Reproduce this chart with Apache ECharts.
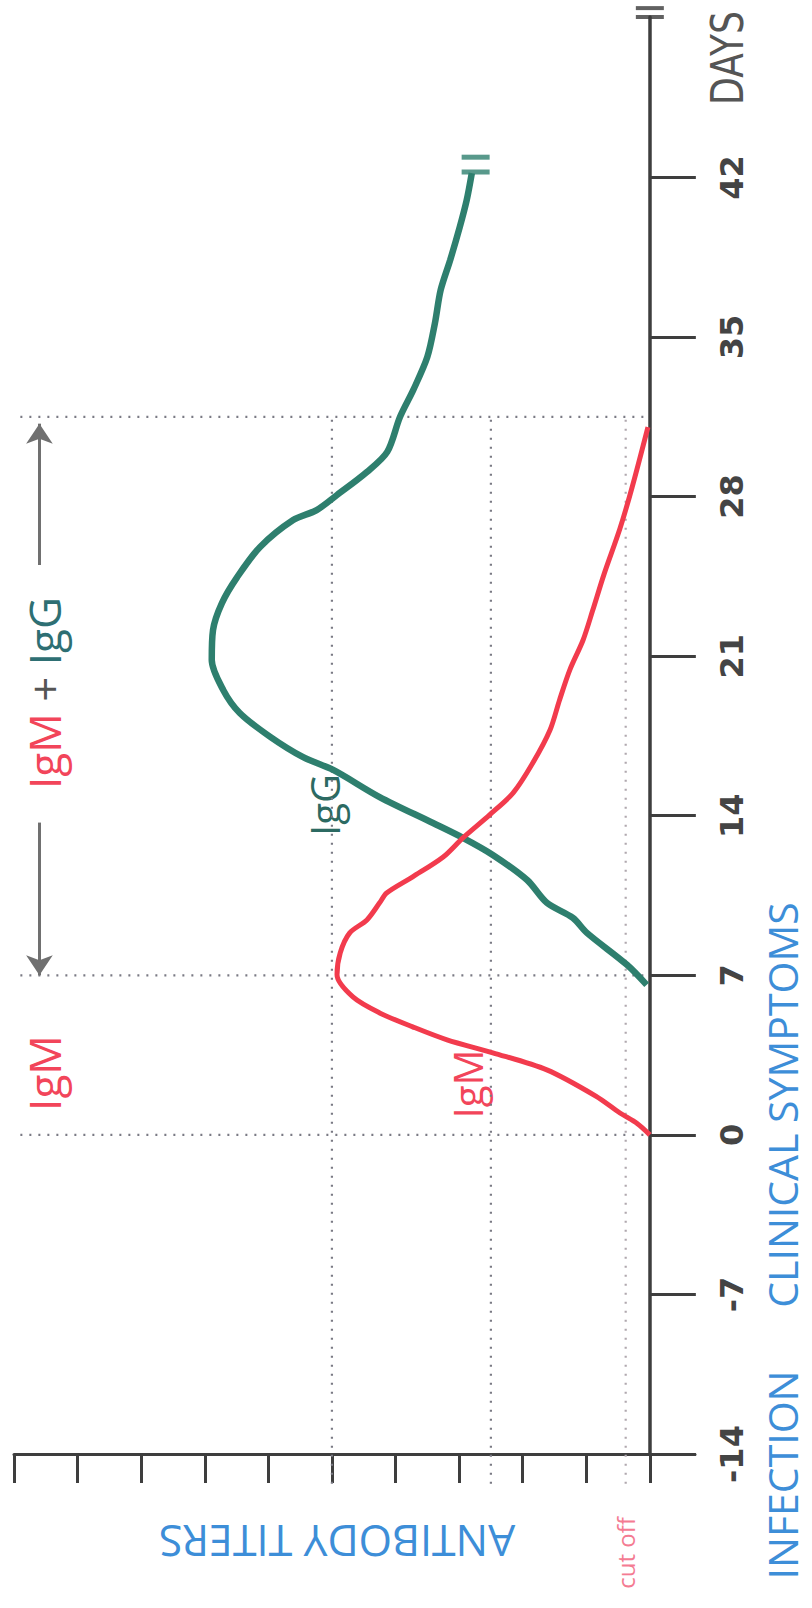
<!DOCTYPE html>
<html>
<head>
<meta charset="utf-8">
<script src="https://cdn.jsdelivr.net/npm/echarts@6/dist/echarts.min.js"></script>
<style>
html,body{margin:0;padding:0;background:#fff;}
#chart{width:812px;height:1608px;}
</style>
</head>
<body>
<div id="chart"></div>
<script>
// ---- data (days since infection vs. antibody titer, arbitrary units 0-10) ----
const igmDays   = [0, 0.5, 0.96, 1.7, 2.85, 3.6, 4.17, 4.74, 5.35, 6.05, 7.02, 7.98, 8.86, 9.43, 10.18, 10.61, 11.32, 12.19, 13.03, 14.04, 15.0, 16.32, 17.76, 19.08, 20.39, 21.71, 23.0, 24.6, 26.6, 28.4, 31.05];
const igmTiters = [0, 0.2, 0.47, 0.85, 1.62, 2.47, 3.19, 3.73, 4.25, 4.67, 4.92, 4.87, 4.72, 4.45, 4.25, 4.14, 3.73, 3.25, 2.94, 2.52, 2.15, 1.84, 1.57, 1.42, 1.26, 1.05, 0.9, 0.72, 0.47, 0.28, 0.03];
const iggDays   = [6.58, 7.46, 8.86, 9.52, 10.18, 11.18, 12.28, 13.03, 13.68, 14.82, 16.01, 16.58, 17.46, 18.51, 19.52, 20.83, 22.15, 23.33, 24.47, 25.79, 26.97, 27.41, 28.07, 29.08, 29.96, 31.49, 32.68, 34.12, 35.61, 37.06, 38.38, 39.82, 41.01, 42.19];
const iggTiters = [0.05, 0.36, 0.99, 1.21, 1.62, 1.93, 2.47, 2.94, 3.41, 4.25, 4.98, 5.46, 5.97, 6.45, 6.71, 6.89, 6.87, 6.73, 6.49, 6.13, 5.61, 5.24, 4.92, 4.45, 4.13, 3.93, 3.72, 3.50, 3.38, 3.29, 3.14, 2.99, 2.88, 2.80];
const dayTicks   = [-14, -7, 0, 7, 14, 21, 28, 35, 42];
const titerTicks = [0, 1, 2, 3, 4, 5, 6, 7, 8, 9, 10];
const guideDays   = [0, 7, 31.5];      // infection, symptom onset, end of IgM phase
const guideTiters = [5, 2.5, 0.38];    // reference titers, last = cut off
const axisBreakDays  = [49.04, 49.43];
const iggBreakDays   = [42.24, 42.89];
const iggBreakTiter  = 2.74;
const arrowSpans = [[13.7, 7.0], [25.0, 31.2]];
const arrowTiter = 9.6;

const dayMin = -14, dayMax = 49.04, titerMin = -0.71, titerMax = 10;
const guideTiterMax = 9.9, guideDayMin = -15.3;

const pairs = (xs, ys) => xs.map((d, i) => [ys[i], d]);

const dotted = [2, 7];
const series = [];
guideDays.forEach(d => series.push({
  type: 'line', silent: true, clip: false, symbol: 'none', z: 1,
  data: [[guideTiterMax, d], [0, d]],
  lineStyle: { color: '#7a7a84', width: 2.2, type: dotted }
}));
guideTiters.forEach((v, i) => series.push({
  type: 'line', silent: true, clip: false, symbol: 'none', z: 1,
  data: [[v, guideDayMin], [v, guideDays[2]]],
  lineStyle: { color: i === 2 ? '#b0a8ae' : '#7a7a84', width: 2.2, type: dotted }
}));
series.push({
  name: 'IgM', type: 'line', smooth: 0.3, symbol: 'none', z: 5, clip: false,
  data: pairs(igmDays, igmTiters),
  lineStyle: { color: '#f23b4d', width: 5 }
});
series.push({
  name: 'IgG', type: 'line', smooth: 0.3, symbol: 'none', z: 4, clip: false,
  data: pairs(iggDays, iggTiters),
  lineStyle: { color: '#2e7f6e', width: 6.5 }
});
series.push({
  type: 'scatter', silent: true, clip: false, z: 6,
  symbol: 'rect', symbolSize: [28, 4],
  data: axisBreakDays.map(d => [0, d]),
  itemStyle: { color: '#3a3a3a' }
});
series.push({
  type: 'scatter', silent: true, clip: false, z: 6,
  symbol: 'rect', symbolSize: [28, 5],
  data: iggBreakDays.map(d => [iggBreakTiter, d]),
  itemStyle: { color: '#2e7f6e' }
});
series.push({
  type: 'lines', coordinateSystem: 'cartesian2d', silent: true, z: 3,
  symbol: ['none', 'arrow'], symbolSize: 20,
  data: arrowSpans.map(s => ({ coords: [[arrowTiter, s[0]], [arrowTiter, s[1]]] })),
  lineStyle: { color: '#707070', width: 3, opacity: 1 }
});

const chart = echarts.init(document.getElementById('chart'), null, { renderer: 'svg' });
chart.setOption({
  animation: false,
  backgroundColor: '#ffffff',
  grid: { left: 14, right: 117, top: 17, bottom: 154, containLabel: false, outerBoundsMode: 'none' },
  xAxis: {
    type: 'value', inverse: true, min: titerMin, max: titerMax, position: 'bottom',
    axisLine: { onZero: false, lineStyle: { color: '#3e3e3e', width: 3 } },
    axisTick: { show: true, customValues: titerTicks, length: 29, inside: false, lineStyle: { color: '#3e3e3e', width: 3 } },
    axisLabel: { show: false },
    splitLine: { show: false }
  },
  yAxis: {
    type: 'value', min: dayMin, max: dayMax, position: 'right',
    axisLine: { onZero: true, lineStyle: { color: '#3e3e3e', width: 3.5 } },
    axisTick: { show: true, customValues: dayTicks, length: 46, inside: false, lineStyle: { color: '#3e3e3e', width: 3 } },
    axisLabel: {
      customValues: dayTicks, rotate: 90, margin: 21,
      color: '#444', fontSize: 32, fontWeight: 'bold', fontFamily: 'DejaVu Sans'
    },
    splitLine: { show: false }
  },
  graphic: [
    { type: 'text', x: 728, y: 58, rotation: Math.PI / 2, scaleX: 0.82,
      style: { text: 'DAYS', fontSize: 44, fontFamily: 'DejaVu Sans', fill: '#555', align: 'center', verticalAlign: 'middle' } },
    { type: 'text', x: 782, y: 1475, rotation: Math.PI / 2,
      style: { text: 'INFECTION', fontSize: 41, fontFamily: 'Open Sans', fill: '#3d8ed8', align: 'center', verticalAlign: 'middle' } },
    { type: 'text', x: 782, y: 1105, rotation: Math.PI / 2,
      style: { text: 'CLINICAL SYMPTOMS', fontSize: 41, fontFamily: 'Open Sans', fill: '#3d8ed8', align: 'center', verticalAlign: 'middle' } },
    { type: 'text', x: 337, y: 1541, rotation: Math.PI,
      style: { text: 'ANTIBODY TITERS', fontSize: 43, fontFamily: 'Open Sans', fill: '#3d8ed8', align: 'center', verticalAlign: 'middle' } },
    { type: 'text', x: 625, y: 1553, rotation: Math.PI / 2,
      style: { text: 'cut off', fontSize: 24, fontFamily: 'Open Sans', fill: '#f47b92', align: 'center', verticalAlign: 'middle' } },
    { type: 'text', x: 44, y: 1073, rotation: Math.PI / 2,
      style: { text: 'IgM', fontSize: 44, fontFamily: 'Open Sans', fill: '#f2455a', align: 'center', verticalAlign: 'middle' } },
    { type: 'text', x: 44, y: 693, rotation: Math.PI / 2,
      style: { text: '{m|IgM} {p|+} {g|IgG}', fontSize: 44, fontFamily: 'Open Sans', align: 'center', verticalAlign: 'middle',
        rich: {
          m: { fill: '#f2455a', fontSize: 44, fontFamily: 'Open Sans' },
          p: { fill: '#555', fontSize: 44, fontFamily: 'Open Sans' },
          g: { fill: '#2e6f73', fontSize: 44, fontFamily: 'Open Sans' }
        } } },
    { type: 'text', x: 324, y: 805, rotation: Math.PI / 2,
      style: { text: 'IgG', fontSize: 40, fontFamily: 'Open Sans', fill: '#2c6a62', align: 'center', verticalAlign: 'middle' } },
    { type: 'text', x: 467, y: 1084, rotation: Math.PI / 2,
      style: { text: 'IgM', fontSize: 40, fontFamily: 'Open Sans', fill: '#f2455a', align: 'center', verticalAlign: 'middle' } }
  ],
  series: series
});
</script>
</body>
</html>
